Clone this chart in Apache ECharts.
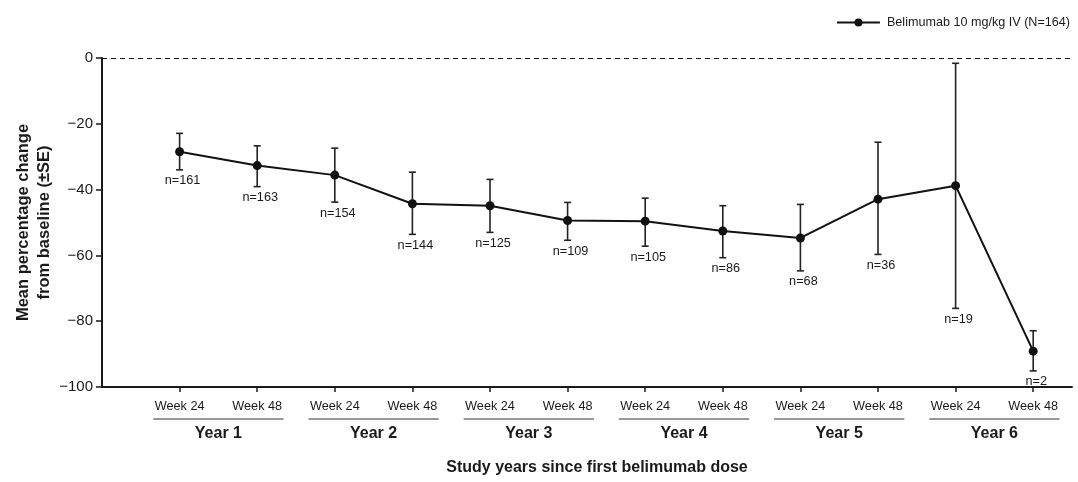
<!DOCTYPE html>
<html>
<head>
<meta charset="utf-8">
<script src="https://cdn.jsdelivr.net/npm/echarts@6/dist/echarts.min.js"></script>
<style>
html,body{margin:0;padding:0;background:#fff;}
#chart{width:1078px;height:482px;}
</style>
</head>
<body>
<div id="chart"></div>
<script>
// ---- data ----
var positions = [1, 2, 3, 4, 5, 6, 7, 8, 9, 10, 11, 12];
var weekLabels = ['Week 24', 'Week 48', 'Week 24', 'Week 48', 'Week 24', 'Week 48', 'Week 24', 'Week 48', 'Week 24', 'Week 48', 'Week 24', 'Week 48'];
var yearLabels = ['Year 1', 'Year 2', 'Year 3', 'Year 4', 'Year 5', 'Year 6'];
var yearCenters = [1.5, 3.5, 5.5, 7.5, 9.5, 11.5];
var means = [-28.5, -32.7, -35.6, -44.3, -44.9, -49.4, -49.6, -52.6, -54.7, -42.9, -38.8, -89.1];
var upper = [-22.9, -26.7, -27.4, -34.7, -36.9, -43.9, -42.6, -44.9, -44.5, -25.6, -1.6, -82.9];
var lower = [-34.0, -39.1, -43.8, -53.6, -53.0, -55.4, -57.2, -60.7, -64.7, -59.7, -76.1, -95.1];
var nCounts = [161, 163, 154, 144, 125, 109, 105, 86, 68, 36, 19, 2];
var yTicks = [0, -20, -40, -60, -80, -100];
var seriesName = 'Belimumab 10 mg/kg IV (N=164)';

var FONT = '"Liberation Sans", Arial, Helvetica, sans-serif';
var INK = '#1a1a1a';

var lineData = positions.map(function (p, i) { return [p, means[i]]; });
var errData = positions.map(function (p, i) { return [p, lower[i], upper[i], nCounts[i]]; });
var yearData = yearCenters.map(function (c) { return [c, -100]; });

var chart = echarts.init(document.getElementById('chart'), null, {renderer: 'canvas'});
chart.setOption({
  animation: false,
  backgroundColor: '#fff',
  textStyle: {fontFamily: FONT},
  grid: {left: 102, right: 6, top: 58, bottom: 95, containLabel: false, outerBoundsMode: 'none'},
  legend: {
    data: [seriesName],
    right: 3, top: 11,
    itemWidth: 43, itemHeight: 10,
    itemGap: 6,
    textStyle: {fontFamily: FONT, fontSize: 12.6, color: INK, padding: [0, 0, 0, 2]},
    selectedMode: false
  },
  xAxis: {
    type: 'value', min: 0, max: 12.5, interval: 1,
    name: 'Study years since first belimumab dose',
    nameLocation: 'middle', nameGap: 73, nameMoveOverlap: false,
    nameTextStyle: {fontFamily: FONT, fontSize: 16, fontWeight: 'bold', color: INK, padding: [0, 0, 0, 20]},
    axisLine: {onZero: false, lineStyle: {color: INK, width: 2}},
    axisTick: {show: true, length: 5, customValues: positions, lineStyle: {color: INK, width: 1.5}},
    axisLabel: {
      customValues: positions, margin: 13,
      fontFamily: FONT, fontSize: 12.7, color: INK,
      formatter: function (v) { var i = positions.indexOf(v); return i >= 0 ? weekLabels[i] : ''; }
    },
    splitLine: {show: false}
  },
  yAxis: {
    type: 'value', min: -100, max: 0, interval: 20,
    name: 'Mean percentage change\nfrom baseline (±SE)',
    nameLocation: 'middle', nameRotate: 90, nameGap: 47, nameMoveOverlap: false,
    nameTextStyle: {fontFamily: FONT, fontSize: 16.5, fontWeight: 'bold', color: INK, lineHeight: 21},
    axisLine: {show: true, onZero: false, lineStyle: {color: INK, width: 2}},
    axisTick: {show: true, length: 6, lineStyle: {color: INK, width: 1.5}},
    axisLabel: {
      margin: 9, fontFamily: FONT, fontSize: 15, color: INK,
      formatter: function (v) { return yTicks.indexOf(v) >= 0 ? String(v).replace('-', '\u2212') : ''; }
    },
    splitLine: {show: false}
  },
  series: [
    {
      name: 'errorbars',
      type: 'custom',
      silent: true,
      clip: false,
      z: 2,
      data: errData,
      renderItem: function (params, api) {
        var x = api.value(0);
        var lo = api.coord([x, api.value(1)]);
        var hi = api.coord([x, api.value(2)]);
        var cap = 3.5;
        var style = {stroke: '#222', lineWidth: 1.6};
        return {
          type: 'group',
          children: [
            {type: 'line', shape: {x1: lo[0], y1: lo[1], x2: hi[0], y2: hi[1]}, style: style},
            {type: 'line', shape: {x1: hi[0] - cap, y1: hi[1], x2: hi[0] + cap, y2: hi[1]}, style: style},
            {type: 'line', shape: {x1: lo[0] - cap, y1: lo[1], x2: lo[0] + cap, y2: lo[1]}, style: style},
            {type: 'text', style: {
              text: 'n=' + nCounts[params.dataIndex], x: lo[0] + 3, y: lo[1] + 11,
              textAlign: 'center', textVerticalAlign: 'middle',
              font: '12.7px ' + FONT, fill: INK
            }}
          ]
        };
      }
    },
    {
      name: seriesName,
      type: 'line',
      data: lineData,
      z: 3,
      symbol: 'circle',
      symbolSize: 9,
      itemStyle: {color: '#111'},
      lineStyle: {color: '#111', width: 2},
      markLine: {
        silent: true,
        symbol: 'none',
        label: {show: false},
        lineStyle: {color: '#111', type: [5, 4], width: 1.2},
        data: [{yAxis: 0}]
      }
    },
    {
      name: 'years',
      type: 'custom',
      silent: true,
      clip: false,
      data: yearData,
      renderItem: function (params, api) {
        var cx = api.value(0);
        var yv = api.value(1);
        var a = api.coord([cx - 0.84, yv]);
        var b = api.coord([cx + 0.84, yv]);
        var c = api.coord([cx, yv]);
        return {
          type: 'group',
          children: [
            {type: 'line', shape: {x1: a[0], y1: a[1] + 32, x2: b[0], y2: b[1] + 32}, style: {stroke: '#333', lineWidth: 1.2}},
            {type: 'text', style: {
              text: yearLabels[params.dataIndex], x: c[0], y: c[1] + 47,
              textAlign: 'center', textVerticalAlign: 'middle',
              font: 'bold 16px ' + FONT, fill: INK
            }}
          ]
        };
      }
    }
  ]
});
</script>
</body>
</html>
